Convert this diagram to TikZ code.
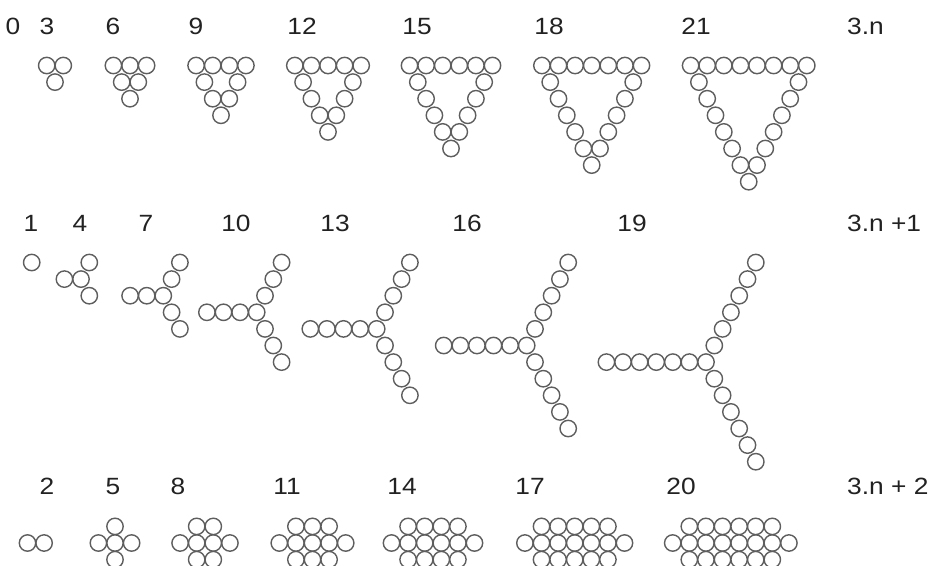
\documentclass[tikz,border=0pt]{standalone}
\usepackage{fontspec}
\setmainfont{Liberation Sans}[FakeStretch=1.12]
\definecolor{ink}{HTML}{222222}
\definecolor{beadc}{HTML}{5E5E5E}
\begin{document}
\begin{tikzpicture}[x=1pt,y=-1pt,
  bead/.style={draw=beadc,line width=1.4pt},
  lab/.style={anchor=base,inner sep=0pt,text=ink,font=\fontsize{23.5}{27}\selectfont},
  rlab/.style={lab,anchor=base west}]
\fill[white] (0,0) rectangle (936,565);
\clip (0,0) rectangle (936,565);
\def\s{16.6}
\def\r{8.2}
% ---------- labels ----------
\foreach \x/\t in {13/0,47/3,113/6,196/9,302/12,417/15,549/18,696/21}
  \node[lab] (ta\t) at (\x,34) {\t};
\node[rlab] (tform) at (847,34) {3.n};
\foreach \x/\t in {31/1,80/4,146/7,236/10,335/13,467/16,632/19}
  \node[lab] (tb\t) at (\x,231) {\t};
\node[rlab] (tbform) at (847,231) {3.n +1};
\foreach \x/\t in {47/2,113/5,178/8,287/11,402/14,530/17,681/20}
  \node[lab] (tc\t) at (\x,494) {\t};
\node[rlab] (tcform) at (847,494) {3.n + 2};
% ---------- 3n : triangles ----------
\foreach \cx/\k in {55/2,130/3,221/4,328/5,451/6,591.7/7,748.7/8}{
  \pgfmathtruncatemacro\km{\k-1}
  \foreach \i in {1,...,\k}
    \draw[bead] ({\cx+(\i-1-\km/2)*\s},65.5) circle[radius=\r];
  \foreach \j in {1,...,\km}{
    \draw[bead] ({\cx-\km*\s/2+\j*\s/2},{65.5+\j*\s}) circle[radius=\r];
    \ifnum\j<\km
      \draw[bead] ({\cx+\km*\s/2-\j*\s/2},{65.5+\j*\s}) circle[radius=\r];
    \fi
  }
}
% ---------- 3n+1 : Y shapes ----------
\foreach \cx/\n in {31.7/0,81/1,163.3/2,256.7/3,376.7/4,526.7/5,706/6}{
  \pgfmathsetmacro\cy{262.5+\n*\s}
  \draw[bead] (\cx,\cy) circle[radius=\r];
  \ifnum\n>0
    \foreach \i in {1,...,\n}{
      \draw[bead] ({\cx-\i*\s},\cy) circle[radius=\r];
      \draw[bead] ({\cx+\i*\s/2},{\cy-\i*\s}) circle[radius=\r];
      \draw[bead] ({\cx+\i*\s/2},{\cy+\i*\s}) circle[radius=\r];
    }
  \fi
}
% ---------- 3n+2 : blocks ----------
\foreach \cx/\n in {35.8/0,115/1,205/2,312.5/3,433/4,574.7/5,730.8/6}{
  \pgfmathtruncatemacro\m{\n+1}
  \foreach \i in {0,...,\m}
    \draw[bead] ({\cx+(\i-\m/2)*\s},543) circle[radius=\r];
  \ifnum\n>0
    \foreach \i in {1,...,\n}{
      \draw[bead] ({\cx+(\i-\m/2)*\s},{543-\s}) circle[radius=\r];
      \draw[bead] ({\cx+(\i-\m/2)*\s},{543+\s}) circle[radius=\r];
    }
  \fi
}
\end{tikzpicture}
\end{document}
